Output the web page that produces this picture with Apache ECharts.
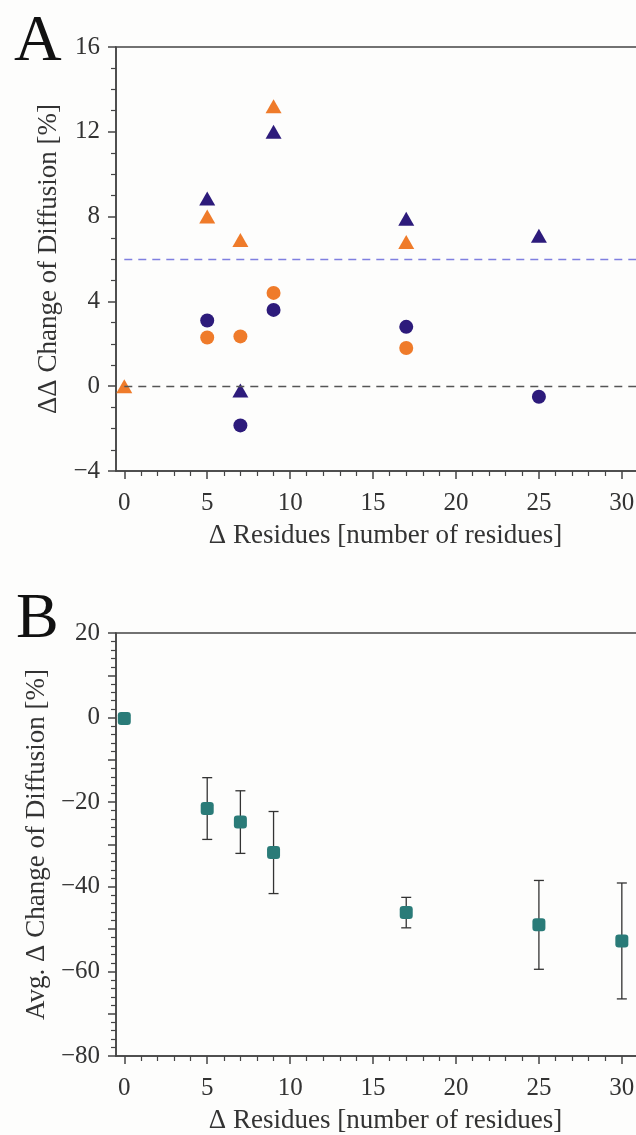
<!DOCTYPE html>
<html>
<head>
<meta charset="utf-8">
<script src="https://cdn.jsdelivr.net/npm/echarts@6/dist/echarts.min.js"></script>
<style>
html,body{margin:0;padding:0;background:#fdfdfc;overflow:hidden;}
#chart{width:660px;height:1135px;}
</style>
</head>
<body>
<div id="chart"></div>
<script>
// ---------- Data ----------
const xMajorTicks = [0, 5, 10, 15, 20, 25, 30];

// Panel A
const orangeTriX = [0, 5, 7, 9, 17];
const orangeTriY = [0.0, 8.0, 6.9, 13.2, 6.8];
const navyTriX = [5, 7, 9, 17, 25];
const navyTriY = [8.85, -0.2, 12.0, 7.9, 7.1];
const orangeCircX = [5, 7, 9, 17];
const orangeCircY = [2.3, 2.35, 4.4, 1.8];
const navyCircX = [5, 7, 9, 17, 25];
const navyCircY = [3.1, -1.85, 3.6, 2.8, -0.5];
const refLinesA = [0, 6];

// Panel B
const bX = [0, 5, 7, 9, 17, 25, 30];
const bMean = [-0.2, -21.5, -24.7, -31.9, -46.1, -49.0, -52.8];
const bErr = [0, 7.3, 7.4, 9.7, 3.6, 10.5, 13.7];

// ---------- Styles ----------
const FONT = 'Liberation Serif';
const AX = '#444';
const TXT = '#333';
const ORANGE = '#ef7b2a';
const NAVY = '#2d1b7b';
const TEAL = '#2a7b78';
const XMIN = -0.5, XMAX = 32;

const minus = v => String(v).replace('-', '\u2212');
const zip = (xs, ys) => xs.map((x, i) => [x, ys[i]]);

function xAxisCfg(gridIndex) {
  return {
    type: 'value', gridIndex, min: XMIN, max: XMAX, splitNumber: 7,
    name: '\u0394 Residues [number of residues]',
    nameLocation: 'middle', nameGap: 51,
    nameTextStyle: {fontFamily: FONT, fontSize: 27, color: TXT},
    axisLine: {show: true, onZero: false, lineStyle: {color: AX, width: 1.5}},
    axisTick: {show: true, inside: false, length: 8, customValues: xMajorTicks, lineStyle: {color: AX, width: 1.5}},
    minorTick: {show: true, splitNumber: 5, length: 5, lineStyle: {color: AX, width: 1.2}},
    axisLabel: {customValues: xMajorTicks, margin: 20, fontFamily: FONT, fontSize: 25, color: TXT, formatter: minus},
    splitLine: {show: false}, minorSplitLine: {show: false}
  };
}

function yAxisCfg(gridIndex, name, min, max, interval, minorSplit, labelEvery) {
  return {
    type: 'value', gridIndex, min, max, interval,
    name, nameLocation: 'middle', nameGap: 52,
    nameTextStyle: {fontFamily: FONT, fontSize: 27, color: TXT},
    axisLine: {show: true, onZero: false, lineStyle: {color: AX, width: 1.5}},
    axisTick: {show: true, inside: false, length: 8, lineStyle: {color: AX, width: 1.5}},
    minorTick: {show: true, splitNumber: minorSplit, length: 5, lineStyle: {color: AX, width: 1.2}},
    axisLabel: {margin: 16, fontFamily: FONT, fontSize: 25, color: TXT,
      formatter: v => (Math.round(v) % labelEvery === 0 ? minus(v) : '')},
    splitLine: {show: false}, minorSplitLine: {show: false}
  };
}

const chart = echarts.init(document.getElementById('chart'), null, {renderer: 'canvas'});

const option = {
  backgroundColor: '#fdfdfc',
  animation: false,
  grid: [
    {left: 116, right: 5, top: 47, bottom: 664, show: true, borderColor: AX, borderWidth: 1.5, backgroundColor: 'transparent'},
    {left: 116, right: 5, top: 633, bottom: 77, show: true, borderColor: AX, borderWidth: 1.5, backgroundColor: 'transparent'}
  ],
  xAxis: [xAxisCfg(0), xAxisCfg(1)],
  yAxis: [
    yAxisCfg(0, '\u0394\u0394 Change of Diffusion [%]', -4, 16, 4, 4, 4),
    yAxisCfg(1, 'Avg. \u0394 Change of Diffusion [%]', -80, 20, 10, 5, 20)
  ],
  graphic: [
    {type: 'text', left: 14, top: 10, style: {text: 'A', font: '66px "Liberation Serif"', fill: '#111'}},
    {type: 'text', left: 16, top: 588, style: {text: 'B', font: '64px "Liberation Serif"', fill: '#111'}}
  ],
  series: [
    {
      type: 'scatter', xAxisIndex: 0, yAxisIndex: 0, data: [], z: 1, silent: true,
      markLine: {
        silent: true, symbol: 'none', label: {show: false},
        data: [
          [{coord: [0, refLinesA[0]], lineStyle: {color: '#555', type: [8, 6], width: 1.3}}, {coord: [XMAX, refLinesA[0]]}],
          [{coord: [0, refLinesA[1]], lineStyle: {color: '#7f7fe0', type: [8, 6], width: 1.3}}, {coord: [XMAX, refLinesA[1]]}]
        ]
      }
    },
    {type: 'scatter', xAxisIndex: 0, yAxisIndex: 0, z: 3, symbol: 'triangle', symbolSize: [16, 14],
      itemStyle: {color: ORANGE, opacity: 1}, data: zip(orangeTriX, orangeTriY)},
    {type: 'scatter', xAxisIndex: 0, yAxisIndex: 0, z: 3, symbol: 'triangle', symbolSize: [16, 14],
      itemStyle: {color: NAVY, opacity: 1}, data: zip(navyTriX, navyTriY)},
    {type: 'scatter', xAxisIndex: 0, yAxisIndex: 0, z: 3, symbol: 'circle', symbolSize: 14,
      itemStyle: {color: ORANGE, opacity: 1}, data: zip(orangeCircX, orangeCircY)},
    {type: 'scatter', xAxisIndex: 0, yAxisIndex: 0, z: 3, symbol: 'circle', symbolSize: 14,
      itemStyle: {color: NAVY, opacity: 1}, data: zip(navyCircX, navyCircY)},
    {
      type: 'custom', xAxisIndex: 1, yAxisIndex: 1, z: 2, silent: true, clip: false,
      data: bX.map((x, i) => [x, bMean[i] - bErr[i], bMean[i] + bErr[i]]).filter((d, i) => bErr[i] > 0),
      renderItem: function (params, api) {
        const x = api.value(0);
        const lo = api.coord([x, api.value(1)]);
        const hi = api.coord([x, api.value(2)]);
        const w = 5;
        const st = {stroke: '#333', lineWidth: 1.3};
        return {type: 'group', children: [
          {type: 'line', shape: {x1: lo[0], y1: lo[1], x2: hi[0], y2: hi[1]}, style: st},
          {type: 'line', shape: {x1: lo[0] - w, y1: lo[1], x2: lo[0] + w, y2: lo[1]}, style: st},
          {type: 'line', shape: {x1: hi[0] - w, y1: hi[1], x2: hi[0] + w, y2: hi[1]}, style: st}
        ]};
      }
    },
    {type: 'scatter', xAxisIndex: 1, yAxisIndex: 1, z: 3, symbol: 'roundRect', symbolSize: 13,
      itemStyle: {color: TEAL, opacity: 1}, data: zip(bX, bMean)}
  ]
};
chart.setOption(option);
</script>
</body>
</html>
